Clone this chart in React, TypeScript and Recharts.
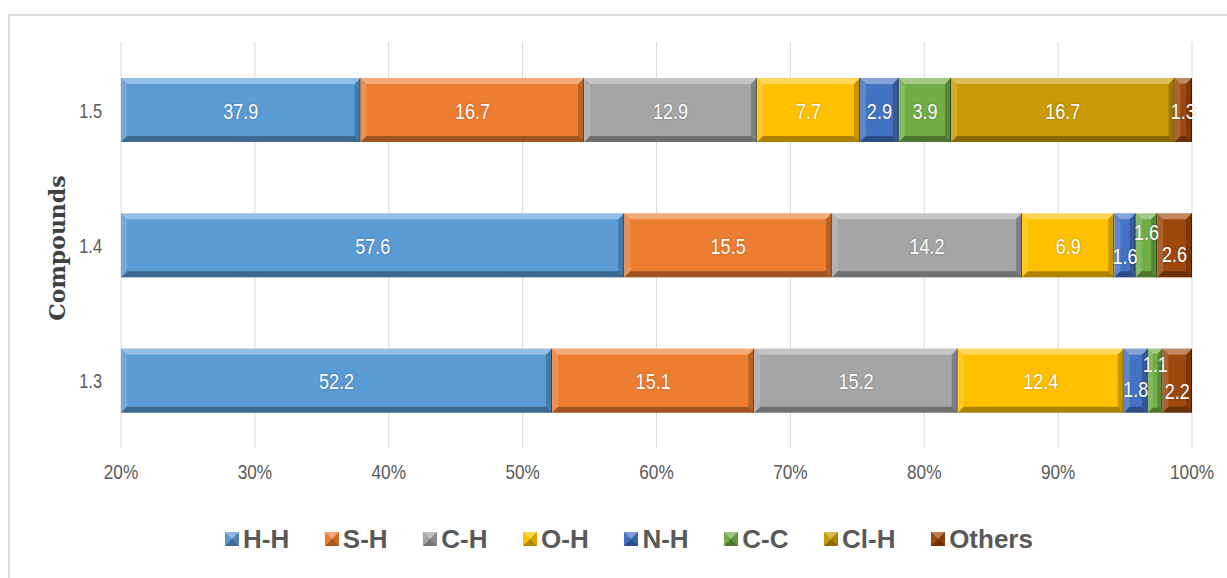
import React from 'react';
import { BarChart, Bar, XAxis, YAxis, CartesianGrid, LabelList, Label } from 'recharts';

// bond contact contributions (%) per compound, top row first
const COMPOUNDS = ['1.5', '1.4', '1.3'];
const HH = [37.9, 57.6, 52.2];
const SH = [16.7, 15.5, 15.1];
const CH = [12.9, 14.2, 15.2];
const OH = [7.7, 6.9, 12.4];
const NH = [2.9, 1.6, 1.8];
const CC = [3.9, 1.6, 1.1];
const CLH = [16.7, 0, 0];
const OTHERS = [1.3, 2.6, 2.2];

const X_TICKS = [20, 30, 40, 50, 60, 70, 80, 90, 100];

const SERIES = [
  { key: 'hh', name: 'H-H', values: HH, color: '#5b9bd5' },
  { key: 'sh', name: 'S-H', values: SH, color: '#ed7d31' },
  { key: 'ch', name: 'C-H', values: CH, color: '#a5a5a5' },
  { key: 'oh', name: 'O-H', values: OH, color: '#ffc000' },
  { key: 'nh', name: 'N-H', values: NH, color: '#4472c4' },
  { key: 'cc', name: 'C-C', values: CC, color: '#70ad47' },
  { key: 'clh', name: 'Cl-H', values: CLH, color: '#c99a06' },
  { key: 'oth', name: 'Others', values: OTHERS, color: '#9e480e' },
];

const data = COMPOUNDS.map((c, i) => {
  const row: Record<string, any> = { compound: c };
  SERIES.forEach((s) => (row[s.key] = s.values[i]));
  return row;
});

const W = 1227;
const H = 578;
const PLOT_LEFT = 121;
const SANS = '"Liberation Sans", Arial, sans-serif';
// squeeze sans glyphs horizontally to get a narrow face
const NARROW_X = 0.82;

// small vertical shifts so the thin segments' labels don't collide
const LABEL_NUDGE: Record<string, number[]> = {
  nh: [0, 10, 8],
  cc: [0, -14, -17],
  oth: [0, 8, 10],
};

function NarrowText({ x, y, size, fill, anchor = 'middle', children, shadow }: any) {
  return (
    <g transform={`translate(${x},${y}) scale(${NARROW_X},1)`}>
      <text
        x={0}
        y={0}
        textAnchor={anchor}
        dominantBaseline="central"
        fill={fill}
        fontFamily={SANS}
        fontSize={size}
        style={shadow ? { textShadow: '0 0 2px rgba(0,0,0,0.35)' } : undefined}
      >
        {children}
      </text>
    </g>
  );
}

function BevelBar(props: any) {
  const { x, y, width, height, fill } = props;
  const x0 = Math.max(x, PLOT_LEFT);
  const x1 = x + width;
  const w = x1 - x0;
  if (!(w > 0.5) || !(height > 0)) return null;
  const y1 = y + height;
  const b = Math.min(6, w / 3, height / 3);
  return (
    <g>
      <rect x={x0} y={y} width={w} height={height} fill={fill} />
      <polygon
        points={`${x0},${y} ${x1},${y} ${x1 - b},${y + b} ${x0 + b},${y + b}`}
        fill="#fff"
        fillOpacity={0.35}
      />
      <polygon
        points={`${x0},${y} ${x0 + b},${y + b} ${x0 + b},${y1 - b} ${x0},${y1}`}
        fill="#fff"
        fillOpacity={0.15}
      />
      <polygon
        points={`${x1},${y} ${x1 - b},${y + b} ${x1 - b},${y1 - b} ${x1},${y1}`}
        fill="#000"
        fillOpacity={0.22}
      />
      <polygon
        points={`${x0},${y1} ${x1},${y1} ${x1 - b},${y1 - b} ${x0 + b},${y1 - b}`}
        fill="#000"
        fillOpacity={0.32}
      />
      <line x1={x1 - 0.5} y1={y} x2={x1 - 0.5} y2={y1} stroke="#000" strokeOpacity={0.45} />
    </g>
  );
}

function makeLabel(key: string) {
  return (props: any) => {
    const { x, y, width, height, value, index } = props;
    if (!value) return null;
    const x0 = Math.max(x, PLOT_LEFT);
    const cx = (x0 + x + width) / 2;
    const dy = (LABEL_NUDGE[key] || [])[index] || 0;
    return (
      <NarrowText x={cx} y={y + height / 2 + 1 + dy} size={22} fill="#fff" shadow>
        {value}
      </NarrowText>
    );
  };
}

function XTick(props: any) {
  const { x, y, payload } = props;
  return (
    <NarrowText x={x} y={y + 16} size={21} fill="#595959">
      {`${payload.value}%`}
    </NarrowText>
  );
}

function YTick(props: any) {
  const { x, y, payload } = props;
  return (
    <NarrowText x={x} y={y + 1} size={20} fill="#595959" anchor="end">
      {payload.value}
    </NarrowText>
  );
}

function Swatch({ color }: { color: string }) {
  return (
    <svg width={14} height={14} style={{ display: 'block' }}>
      <rect x={0} y={0} width={14} height={14} fill={color} />
      <polygon points="0,0 14,0 7,7" fill="#fff" fillOpacity={0.3} />
      <polygon points="0,14 14,14 7,7" fill="#000" fillOpacity={0.3} />
      <polygon points="14,0 14,14 7,7" fill="#000" fillOpacity={0.15} />
    </svg>
  );
}

export default function App() {
  return (
    <div
      style={{
        position: 'absolute',
        left: 0,
        top: 0,
        width: W,
        height: H,
        background: '#fff',
        overflow: 'hidden',
      }}
    >
      <div
        style={{
          position: 'absolute',
          left: 8,
          top: 14,
          width: 1260,
          height: 640,
          border: '2px solid #dedede',
        }}
      />
      <BarChart
        width={W}
        height={H}
        data={data}
        layout="vertical"
        margin={{ top: 42, right: 35, bottom: 100, left: 21 }}
        style={{ position: 'absolute', left: 0, top: 0 }}
      >
        <CartesianGrid horizontal={false} stroke="#d9d9d9" />
        <XAxis
          type="number"
          domain={[20, 100]}
          ticks={X_TICKS}
          allowDataOverflow
          axisLine={false}
          tickLine={false}
          tick={<XTick />}
        />
        <YAxis
          type="category"
          dataKey="compound"
          width={100}
          axisLine={false}
          tickLine={false}
          tick={<YTick />}
          tickMargin={13}
        >
          <Label
            content={({ viewBox }: any) => {
              const cy = viewBox.y + viewBox.height / 2 + 3;
              return (
                <text
                  x={57}
                  y={cy}
                  transform={`rotate(-90 57 ${cy})`}
                  textAnchor="middle"
                  dominantBaseline="central"
                  fill="#404040"
                  fontFamily='"DejaVu Serif", serif'
                  fontWeight="bold"
                  fontSize={22}
                >
                  Compounds
                </text>
              );
            }}
          />
        </YAxis>
        {SERIES.map((s) => (
          <Bar
            key={s.key}
            dataKey={s.key}
            name={s.name}
            stackId="a"
            fill={s.color}
            barSize={64}
            shape={BevelBar}
            isAnimationActive={false}
          >
            <LabelList dataKey={s.key} content={makeLabel(s.key)} />
          </Bar>
        ))}
      </BarChart>
      <div
        style={{
          position: 'absolute',
          left: 225,
          top: 524,
          width: 808,
          display: 'flex',
          justifyContent: 'space-between',
          alignItems: 'center',
          fontFamily: SANS,
          fontWeight: 'bold',
          fontSize: 26,
          color: '#595959',
          lineHeight: '30px',
        }}
      >
        {SERIES.map((s) => (
          <div key={s.key} style={{ display: 'flex', alignItems: 'center', gap: 4 }}>
            <Swatch color={s.color} />
            <span>{s.name}</span>
          </div>
        ))}
      </div>
    </div>
  );
}
